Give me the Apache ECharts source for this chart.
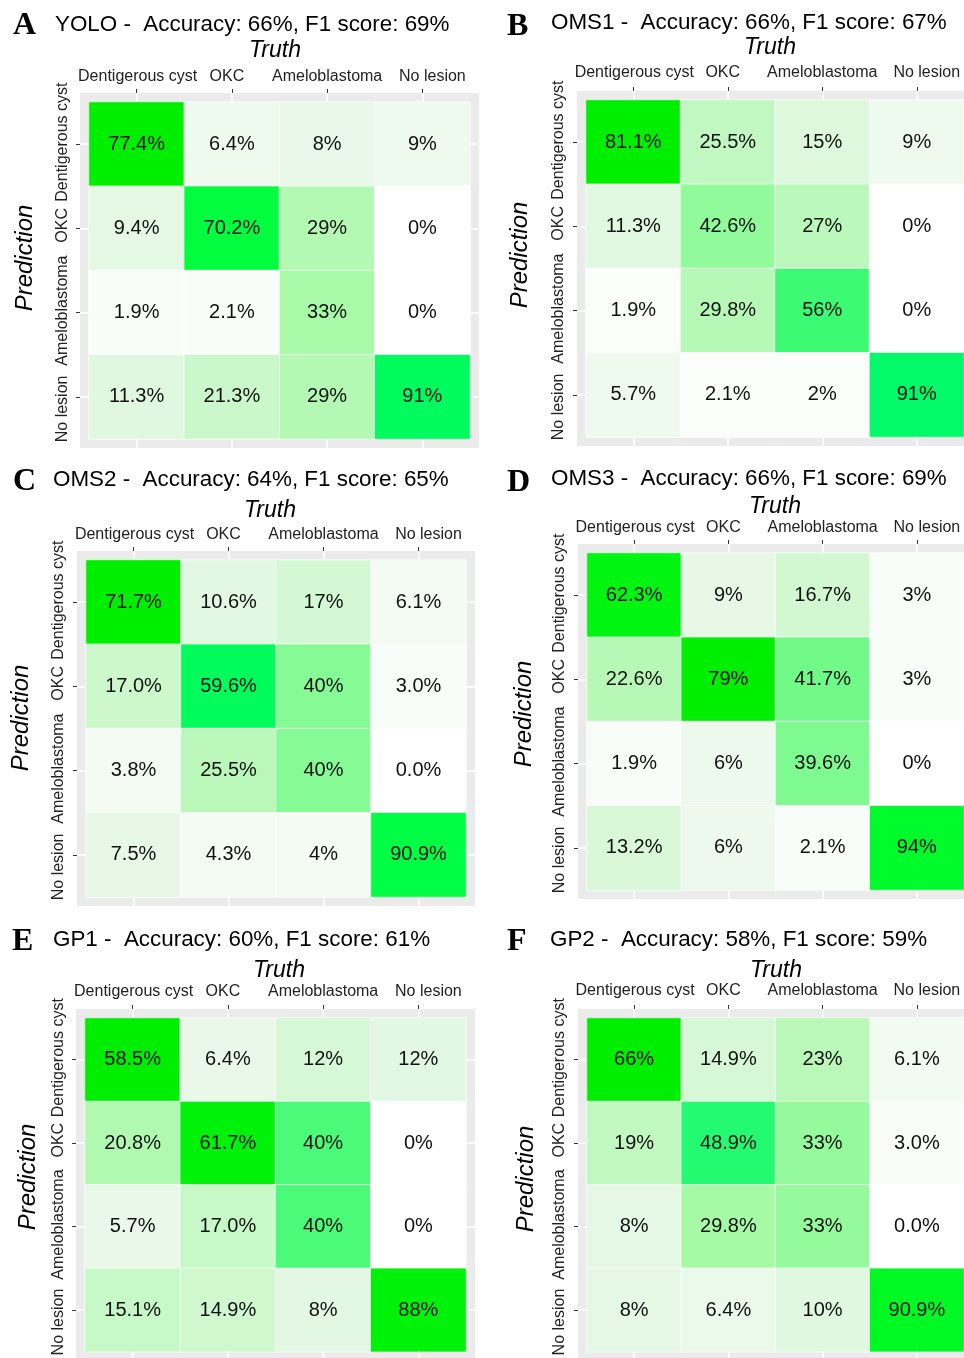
<!DOCTYPE html>
<html><head><meta charset="utf-8">
<script src="https://cdn.jsdelivr.net/npm/echarts@6/dist/echarts.min.js"></script>
<style>html,body{margin:0;padding:0;background:#fff}#c{width:964px;height:1358px}</style>
</head><body><div id="c"></div>
<script>
// ---------- data ----------
const classes = ["Dentigerous cyst", "OKC", "Ameloblastoma", "No lesion"];
// number of test cases per truth class (inferred from the percentages)
const truthTotals = [53, 47, 48, 33];
// rows = Prediction (top to bottom), columns = Truth (left to right)
const yoloPct = [["77.4%","6.4%","8%","9%"],["9.4%","70.2%","29%","0%"],["1.9%","2.1%","33%","0%"],["11.3%","21.3%","29%","91%"]];
const oms1Pct = [["81.1%","25.5%","15%","9%"],["11.3%","42.6%","27%","0%"],["1.9%","29.8%","56%","0%"],["5.7%","2.1%","2%","91%"]];
const oms2Pct = [["71.7%","10.6%","17%","6.1%"],["17.0%","59.6%","40%","3.0%"],["3.8%","25.5%","40%","0.0%"],["7.5%","4.3%","4%","90.9%"]];
const oms3Pct = [["62.3%","9%","16.7%","3%"],["22.6%","79%","41.7%","3%"],["1.9%","6%","39.6%","0%"],["13.2%","6%","2.1%","94%"]];
const gp1Pct  = [["58.5%","6.4%","12%","12%"],["20.8%","61.7%","40%","0%"],["5.7%","17.0%","40%","0%"],["15.1%","14.9%","8%","88%"]];
const gp2Pct  = [["66%","14.9%","23%","6.1%"],["19%","48.9%","33%","3.0%"],["8%","29.8%","33%","0.0%"],["8%","6.4%","10%","90.9%"]];
const panelLetters = ["A", "B", "C", "D", "E", "F"];
const panelModels = ["YOLO", "OMS1", "OMS2", "OMS3", "GP1", "GP2"];
const accuracy = [66, 66, 64, 66, 60, 58];
const f1Score = [69, 67, 65, 69, 61, 59];
const panelPct = [yoloPct, oms1Pct, oms2Pct, oms3Pct, gp1Pct, gp2Pct];

// ---------- layout / style ----------
const LAYOUT = [
  {L:89,  T:102,  W:381, H:337, xm:8,  ym:9,  letter:[13,26],  title:[55,24.5], truth:[275,51],  pred:[25,258]},
  {L:586, T:100,  W:381, H:337, xm:10, ym:10, letter:[507,27], title:[551,23],  truth:[770,48],  pred:[520,255]},
  {L:86,  T:560,  W:380, H:337, xm:8,  ym:10, letter:[13,482], title:[53,479.5],truth:[270,511], pred:[21,718]},
  {L:587, T:553,  W:381, H:337, xm:8,  ym:10, letter:[507,483],title:[551,479], truth:[775,507], pred:[524,714]},
  {L:85,  T:1018, W:381, H:337, xm:9,  ym:9,  letter:[12,942], title:[53,940],  truth:[279,971], pred:[28,1177]},
  {L:587, T:1018, W:381, H:337, xm:10, ym:10, letter:[507,942],title:[550,940], truth:[776,971], pred:[526,1179]}
];
const M = 9; // grey panel margin around tiles
const SANS = '"Liberation Sans", Arial, sans-serif';
const SERIF = '"Liberation Serif", "Times New Roman", serif';
const FILL_COLORS = ['#ffffff','#e8f8e8','#d6f8d6','#bcf8bc','#a6faa6','#86fa94','#55fa7a','#00fa69','#00ff41','#00f40c','#00ee00'];
// small label shifts along the axis (px, + = towards later categories), as in the original
const X_SHIFT = [1, -5, 0, 10];
const Y_SHIFT = [-2, -3, -2, 12];
const LABEL_FONT = {fontSize:16, fontFamily:SANS, color:'#222'};

function richFor(shifts, rotated) {
  const rich = {};
  shifts.forEach((d, k) => {
    const a = Math.max(0, 2 * d), b = Math.max(0, -2 * d);
    rich['c' + k] = Object.assign({}, LABEL_FONT,
      {padding: rotated ? [0, a, 0, b] : [0, b, 0, a]});
  });
  return rich;
}
const labelFormatter = (value, index) => '{c' + index + '|' + value + '}';

const grids = [], xAxes = [], yAxes = [], series = [], graphics = [];

LAYOUT.forEach((p, i) => {
  // outer grey panel
  grids.push({left:p.L - M, top:p.T - M, width:p.W + 2*M, height:p.H + 2*M,
    show:true, backgroundColor:'#ebebeb', borderWidth:0, containLabel:false});
  // tile area
  const gi = grids.length;
  grids.push({left:p.L, top:p.T, width:p.W, height:p.H, show:false, containLabel:false});

  const base = {type:'category', data:classes, gridIndex:gi, z:3,
    axisLine:{show:false}, splitLine:{show:false}, splitArea:{show:false}};
  const xMain = xAxes.length;
  xAxes.push(Object.assign({}, base, {position:'top', offset:M,
    axisTick:{show:true, alignWithLabel:true, interval:0, length:4, lineStyle:{color:'#333', width:1}},
    axisLabel:Object.assign({show:true, interval:0, hideOverlap:false, margin:p.xm,
      formatter:labelFormatter, rich:richFor(X_SHIFT, false)}, LABEL_FONT)}));
  ['top','bottom'].forEach(pos => xAxes.push(Object.assign({}, base, {position:pos, offset:M,
    axisTick:{show:true, inside:true, alignWithLabel:true, interval:0, length:M, lineStyle:{color:'#ffffff', width:1.5}},
    axisLabel:{show:false}})));

  const yMain = yAxes.length;
  yAxes.push(Object.assign({}, base, {position:'left', offset:M, inverse:true,
    axisTick:{show:true, alignWithLabel:true, interval:0, length:4, lineStyle:{color:'#333', width:1}},
    axisLabel:Object.assign({show:true, interval:0, hideOverlap:false, rotate:90, margin:p.ym,
      formatter:labelFormatter, rich:richFor(Y_SHIFT, true)}, LABEL_FONT)}));
  ['left','right'].forEach(pos => yAxes.push(Object.assign({}, base, {position:pos, offset:M, inverse:true,
    axisTick:{show:true, inside:true, alignWithLabel:true, interval:0, length:M, lineStyle:{color:'#ffffff', width:1.5}},
    axisLabel:{show:false}})));

  // cells: [truth index, prediction index, percent, count / max count]
  const pct = panelPct[i];
  const counts = pct.map(row => row.map((s, c) => Math.round(parseFloat(s) / 100 * truthTotals[c])));
  const maxCount = Math.max(...counts.flat());
  const data = [];
  for (let r = 0; r < 4; r++) for (let c = 0; c < 4; c++) {
    data.push([c, r, parseFloat(pct[r][c]), counts[r][c] / maxCount]);
  }
  series.push({type:'heatmap', xAxisIndex:xMain, yAxisIndex:yMain, data:data,
    itemStyle:{borderColor:'rgba(255,255,255,0.85)', borderWidth:0.8},
    emphasis:{disabled:true},
    label:{show:true, fontSize:20, fontFamily:SANS, color:'#111',
      formatter:(prm) => pct[prm.value[1]][prm.value[0]]}});

  // texts
  graphics.push({type:'text', x:p.letter[0], y:p.letter[1], silent:true,
    style:{text:panelLetters[i], fontFamily:SERIF, fontWeight:'bold', fontSize:32, fill:'#000', align:'left', verticalAlign:'middle'}});
  graphics.push({type:'text', x:p.title[0], y:p.title[1], silent:true,
    style:{text:panelModels[i] + ' -  Accuracy: ' + accuracy[i] + '%, F1 score: ' + f1Score[i] + '%',
      fontFamily:SANS, fontSize:22.4, fill:'#000', align:'left', verticalAlign:'middle'}});
  graphics.push({type:'text', x:p.truth[0], y:p.truth[1], silent:true,
    style:{text:'Truth', fontFamily:SANS, fontStyle:'italic', fontSize:23, fill:'#000', align:'center', verticalAlign:'middle'}});
  graphics.push({type:'text', x:p.pred[0], y:p.pred[1], rotation:Math.PI/2, silent:true,
    style:{text:'Prediction', fontFamily:SANS, fontStyle:'italic', fontSize:24, fill:'#000', align:'center', verticalAlign:'middle'}});
});

const chart = echarts.init(document.getElementById('c'), null, {renderer:'canvas'});
chart.setOption({
  animation:false,
  backgroundColor:'#ffffff',
  grid:grids, xAxis:xAxes, yAxis:yAxes, series:series,
  visualMap:{type:'continuous', show:false, dimension:3, min:0, max:1,
    seriesIndex:series.map((s, k) => k), inRange:{color:FILL_COLORS}},
  graphic:graphics
});
</script></body></html>
